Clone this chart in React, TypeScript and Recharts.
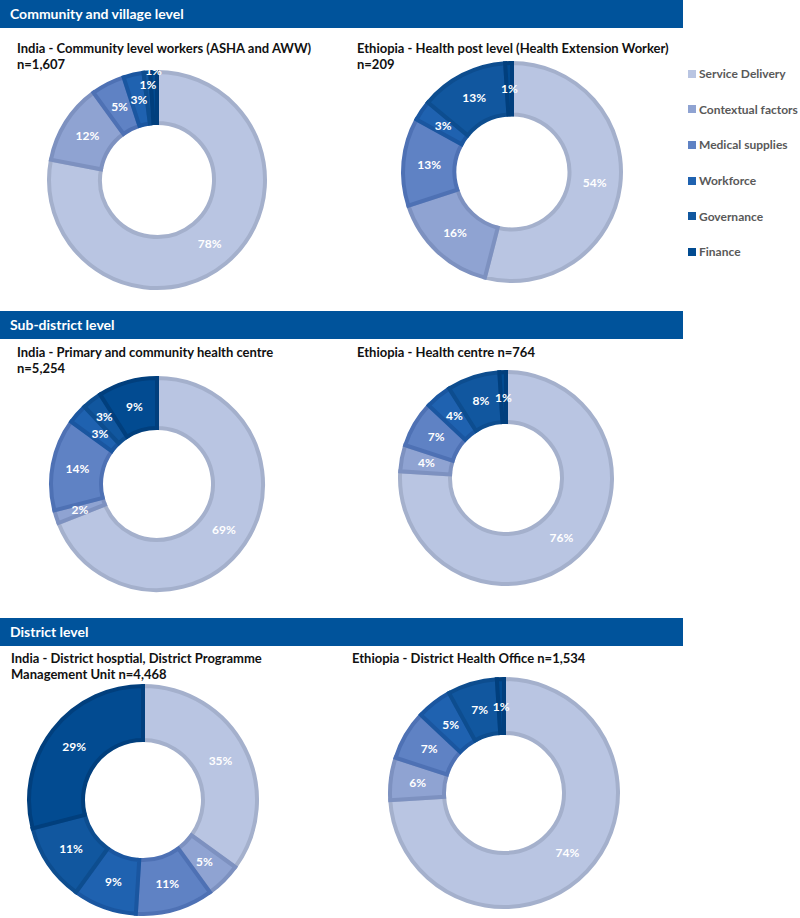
import React from "react";
import { PieChart, Pie, Cell } from "recharts";

const categories = [
  "Service Delivery",
  "Contextual factors",
  "Medical supplies",
  "Workforce",
  "Governance",
  "Finance",
];

const fills = ["#b9c5e2", "#8fa3d2", "#5f82c4", "#1f62b0", "#11579f", "#024b91"];
const strokes = ["#a4b0cc", "#7d91c0", "#4e71b4", "#1a56a0", "#0d4d8f", "#013f7d"];

const indiaCommunity = [78, 12, 5, 3, 1, 1];
const ethiopiaHealthPost = [54, 16, 13, 3, 13, 1];
const indiaSubDistrict = [69, 2, 14, 3, 3, 9];
const ethiopiaHealthCentre = [76, 4, 7, 4, 8, 1];
const indiaDistrict = [35, 5, 11, 9, 11, 29];
const ethiopiaDistrict = [74, 6, 7, 5, 7, 1];

const sections = [
  { title: "Community and village level", top: 0 },
  { title: "Sub-district level", top: 311 },
  { title: "District level", top: 618 },
];

const font = "Lato, 'Open Sans', sans-serif";
const RAD = Math.PI / 180;

function toRows(values: number[]) {
  return values.map((v, i) => ({ name: categories[i], value: v }));
}

// nudge labels of small neighbouring slices so they don't collide
function labelShift(values: number[], i: number) {
  const tiny = (k: number) => k >= 0 && k < values.length && values[k] <= 1;
  const small = (k: number) => k >= 0 && k < values.length && values[k] > 1 && values[k] <= 3;
  if (tiny(i)) {
    let start = i;
    while (tiny(start - 1)) start--;
    let end = i;
    while (tiny(end + 1)) end++;
    if (end === start) return 0;
    return 13.5 * (i - start + 1);
  }
  if (small(i) && small(i + 1)) return -5;
  if (small(i) && small(i - 1)) return 5;
  return 0;
}

function makeLabel(values: number[]) {
  return (props: any) => {
    const { cx, cy, midAngle, innerRadius, outerRadius, value, index } = props;
    const r = (innerRadius + outerRadius) / 2 + labelShift(values, index);
    const x = cx + r * Math.cos(-midAngle * RAD);
    const y = cy + r * Math.sin(-midAngle * RAD);
    return (
      <text
        x={x}
        y={y}
        fill="#ffffff"
        fontSize={12}
        fontWeight={700}
        fontFamily={font}
        textAnchor="middle"
        dominantBaseline="central"
      >
        {value}%
      </text>
    );
  };
}

interface DonutProps {
  values: number[];
  cx: number;
  cy: number;
  r: number;
}

function Donut({ values, cx, cy, r }: DonutProps) {
  const size = 260;
  return (
    <div style={{ position: "absolute", left: cx - size / 2, top: cy - size / 2 }}>
      <PieChart width={size} height={size}>
        <Pie
          data={toRows(values)}
          dataKey="value"
          cx="50%"
          cy="50%"
          innerRadius={r / 2 + 2}
          outerRadius={r - 2}
          startAngle={90}
          endAngle={-270}
          label={makeLabel(values)}
          labelLine={false}
          isAnimationActive={false}
        >
          {values.map((_, i) => (
            <Cell key={i} fill={fills[i]} stroke={strokes[i]} strokeWidth={4} />
          ))}
        </Pie>
      </PieChart>
    </div>
  );
}

function Title({ x, y, lines }: { x: number; y: number; lines: string[] }) {
  return (
    <div
      style={{
        position: "absolute",
        left: x,
        top: y,
        fontFamily: font,
        fontWeight: 700,
        fontSize: 13,
        lineHeight: "16px",
        color: "#111",
        whiteSpace: "nowrap",
      }}
    >
      {lines.map((l) => (
        <div key={l}>{l}</div>
      ))}
    </div>
  );
}

export default function App() {
  return (
    <div
      style={{
        position: "absolute",
        left: 0,
        top: 0,
        width: 800,
        height: 918,
        background: "#fff",
        overflow: "hidden",
      }}
    >
      {sections.map((s) => (
        <div
          key={s.title}
          style={{
            position: "absolute",
            left: 0,
            top: s.top,
            width: 683,
            height: 28,
            background: "#00539b",
            color: "#fff",
            fontFamily: font,
            fontWeight: 700,
            fontSize: 14,
            lineHeight: "28px",
            paddingLeft: 10,
            boxSizing: "border-box",
          }}
        >
          {s.title}
        </div>
      ))}

      <Title x={17} y={40} lines={["India - Community level workers (ASHA and AWW)", "n=1,607"]} />
      <Title x={357} y={40} lines={["Ethiopia - Health post level (Health Extension Worker)", "n=209"]} />
      <Title x={17} y={344} lines={["India - Primary and community health centre", "n=5,254"]} />
      <Title x={357} y={344} lines={["Ethiopia - Health centre n=764"]} />
      <Title x={11} y={650} lines={["India - District hosptial, District Programme", "Management Unit n=4,468"]} />
      <Title x={352} y={650} lines={["Ethiopia - District Health Office n=1,534"]} />

      <Donut values={indiaCommunity} cx={157} cy={180} r={110} />
      <Donut values={ethiopiaHealthPost} cx={512} cy={172} r={111} />
      <Donut values={indiaSubDistrict} cx={157} cy={484} r={108} />
      <Donut values={ethiopiaHealthCentre} cx={506} cy={478} r={108} />
      <Donut values={indiaDistrict} cx={143} cy={800} r={116} />
      <Donut values={ethiopiaDistrict} cx={504} cy={793} r={116} />

      <div style={{ position: "absolute", left: 688, top: 56 }}>
        {categories.map((c, i) => (
          <div
            key={c}
            style={{
              display: "flex",
              alignItems: "center",
              height: 35.6,
              fontFamily: font,
              fontWeight: 700,
              fontSize: 12,
              color: "#595959",
              whiteSpace: "nowrap",
            }}
          >
            <span
              style={{
                display: "inline-block",
                width: 8,
                height: 8,
                background: fills[i],
                marginRight: 3,
              }}
            />
            {c}
          </div>
        ))}
      </div>
    </div>
  );
}
